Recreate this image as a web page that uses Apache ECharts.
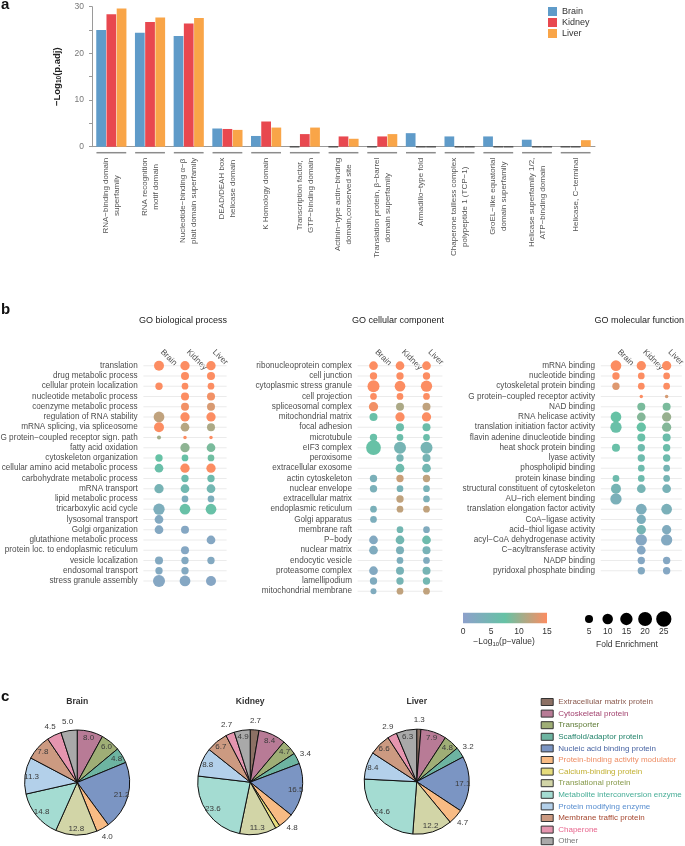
<!DOCTYPE html>
<html><head><meta charset="utf-8">
<script src="https://cdn.jsdelivr.net/npm/echarts@6/dist/echarts.min.js"></script>
<style>html,body{margin:0;padding:0;background:#fff}#c{width:685px;height:846px}</style>
</head><body><div id="c"></div><script>
const FONT = '"Liberation Sans", Arial, Helvetica, sans-serif';

// ---------- Panel a data ----------
const tissues = ['Brain', 'Kidney', 'Liver'];
const tissueColors = ['#5f9bc9', '#e8484f', '#f9a548'];
const domainNames = [
  'RNA\u2212binding domain\nsuperfamily',
  'RNA recognition\nmotif domain',
  'Nucleotide\u2212binding \u03b1\u2212\u03b2\nplait domain superfamily',
  'DEAD/DEAH box\nhelicase domain',
  'K Homology domain',
  'Transcription factor,\nGTP\u2212binding domain',
  'Actinin\u2212type actin\u2212binding\ndomain,conserved site',
  'Translation protein, \u03b2\u2212barrel\ndomain superfamily',
  'Armadillo\u2212type fold',
  'Chaperone tailless complex\npolypeptide 1 (TCP\u22121)',
  'GroEL\u2212like equatorial\ndomain superfamily',
  'Helicase superfamily 1/2,\nATP\u2212binding domain',
  'Helicase, C\u2212terminal'
];
const brainPadj  = [25.0, 24.4, 23.7, 3.9, 2.3, 0, 0, 0, 2.9, 2.2, 2.2, 1.5, 0];
const kidneyPadj = [28.4, 26.7, 26.4, 3.8, 5.4, 2.7, 2.2, 2.2, 0, 0, 0, 0, 0];
const liverPadj  = [29.6, 27.7, 27.6, 3.6, 4.1, 4.1, 1.7, 2.7, 0, 0, 0, 0, 1.4];

// ---------- Panel b data ----------
const bpTerms = ['translation','drug metabolic process','cellular protein localization','nucleotide metabolic process','coenzyme metabolic process','regulation of RNA stability','mRNA splicing, via spliceosome','G protein\u2212coupled receptor sign. path','fatty acid oxidation','cytoskeleton organization','cellular amino acid metabolic process','carbohydrate metabolic process','mRNA transport','lipid metabolic process','tricarboxylic acid cycle','lysosomal transport','Golgi organization','glutathione metabolic process','protein loc. to endoplasmic reticulum','vesicle localization','endosomal transport','stress granule assembly'];
const bpBrainFE  = [8.8,null,4.0,null,null,10.5,8.8,1.16,null,4.0,6.2,null,7.3,null,12.0,6.2,6.2,null,null,5.0,4.0,13.9];
const bpKidneyFE = [7.3,5.0,3.2,5.0,5.0,7.3,6.2,1.03,7.3,3.2,7.3,4.0,6.2,3.2,10.5,null,5.0,null,5.0,4.0,4.0,10.5];
const bpLiverFE  = [7.3,5.0,3.2,5.0,5.0,7.3,5.0,1.03,6.2,3.2,7.3,4.0,6.2,3.2,10.5,null,null,6.2,null,4.0,null,8.8];
const bpBrainP   = [15,null,15,null,null,12,15,10.5,null,7.5,6.8,null,4.3,null,3,2,1.8,null,null,2,2,1.6];
const bpKidneyP  = [15,15,15,15,14.5,15,11.5,15,9.5,7.3,15,6,5.3,3,7.2,null,1.5,null,1.5,2,2,1.6];
const bpLiverP   = [15,15,15,14.5,13.2,15,11,15,8.5,8,15,6,5,3,7.2,null,null,1.5,null,2,null,1.3];

const ccTerms = ['ribonucleoprotein complex','cell junction','cytoplasmic stress granule','cell projection','spliceosomal complex','mitochondrial matrix','focal adhesion','microtubule','eIF3 complex','peroxisome','extracellular exosome','actin cytoskeleton','nuclear envelope','extracellular matrix','endoplasmic reticulum','Golgi apparatus','membrane raft','P\u2212body','nuclear matrix','endocytic vesicle','proteasome complex','lamellipodium','mitochondrial membrane'];
const ccBrainFE  = [6.2,4.0,13.9,3.2,7.3,5.0,null,4.0,22.9,null,null,4.0,4.0,null,3.2,3.2,null,6.2,6.2,null,6.2,4.0,2.4];
const ccKidneyFE = [6.2,4.0,10.5,3.2,5.0,7.3,5.0,3.2,13.9,4.0,6.2,4.0,3.2,4.0,3.2,null,3.2,6.2,5.0,3.2,5.0,4.0,3.2];
const ccLiverFE  = [6.2,4.0,12.0,3.2,5.0,7.3,5.0,3.2,13.9,5.0,6.2,4.0,3.2,3.2,3.2,null,3.2,6.2,5.0,3.2,5.0,4.0,3.2];
const ccBrainP   = [15,15,15,15,14.5,7,null,7,7.3,null,null,3.5,3.5,null,3.5,3,null,2,2.5,null,2,2.5,2.5];
const ccKidneyP  = [15,15,15,15,11,15,6.5,6.5,4.5,4.5,6,12.5,4,12,12,null,5,5,3.5,3,4,4.5,12];
const ccLiverP   = [15,15,15,15,12,15,6.5,6.5,4.5,4.5,5,12,4,3.5,12,null,2.5,6,4,2.5,4.5,5,12];

const mfTerms = ['mRNA binding','nucleotide binding','cytoskeletal protein binding','G protein\u2212coupled receptor activity','NAD binding','RNA helicase activity','translation initiation factor activity','flavin adenine dinucleotide binding','heat shock protein binding','lyase activity','phospholipid binding','protein kinase binding','structural constituent of cytoskeleton','AU\u2212rich element binding','translation elongation factor activity','CoA\u2212ligase activity','acid\u2212thiol ligase activity','acyl\u2212CoA dehydrogenase activity','C\u2212acyltransferase activity','NADP binding','pyridoxal phosphate binding'];
const mfBrainFE  = [10.5,4.0,4.0,null,null,10.5,12.0,null,5.0,null,null,3.2,8.8,12.0,null,null,null,null,null,null,null];
const mfKidneyFE = [7.3,3.2,3.2,1.03,5.0,6.2,7.3,5.0,4.0,4.0,3.2,3.2,6.2,null,10.5,7.3,7.3,12.0,6.2,4.0,4.0];
const mfLiverFE  = [7.3,3.2,3.2,1.03,5.0,7.3,7.3,5.0,4.0,4.0,3.2,3.2,6.2,null,10.5,null,7.3,12.0,null,4.0,4.0];
const mfBrainP   = [15,15,13.5,null,null,7.5,7,null,7,null,null,6,4.5,3.5,null,null,null,null,null,null,null];
const mfKidneyP  = [15,15,15,15,8.5,9,7.5,7,6,6,6,6,4.5,null,3,3,4.5,1.5,1.5,1.5,2];
const mfLiverP   = [15,15,15,13,8.5,10,9,6.5,6.5,6,4.5,4.5,4,null,3.5,null,2.5,2,null,1.5,1.5];

const pLegendTicks = [0, 5, 10, 15];
const feLegendTicks = [5, 10, 15, 20, 25];

// ---------- Panel c data ----------
const pieCats = ['Extracellular matrix protein','Cytoskeletal protein','Transporter','Scaffold/adaptor protein','Nucleic acid binding protein','Protein-binding activity modulator','Calcium-binding protein','Translational protein','Metabolite interconversion enzyme','Protein modifying enzyme','Membrane traffic protein','Chaperone','Other'];
const brainShare  = [0, 8.0, 6.0, 4.8, 21.2, 4.0, 0, 12.8, 14.8, 11.3, 7.8, 4.5, 5.0];
const kidneyShare = [2.7, 8.4, 4.7, 3.4, 16.5, 4.8, 1.4, 11.3, 23.6, 8.8, 6.7, 2.7, 4.9];
const liverShare  = [1.3, 7.9, 4.8, 3.2, 17.1, 4.7, 0, 12.2, 24.6, 8.4, 6.6, 2.9, 6.3];

// ---------- styling config ----------
const pieColors = ['#8c7064','#b87b96','#9fae76','#6db4a1','#7b95c3','#f8bb84','#e6dc7c','#d2d5a7','#a4dcd2','#b3d0ea','#cc9a81','#e595af','#a9a9a9'];
const pieTextColors = ['#8a5a4e','#a3436f','#5e7b35','#24846c','#4a65a3','#ee8d64','#c2b032','#86994a','#47ad96','#5a8fd0','#a5472f','#e7658d','#7a7a7a'];
const pieOutside = [[5, 11, 12], [0, 3, 5, 6, 11], [0, 3, 5, 11]];
const pieLayout = [{c: [77.2, 782.5], title: 'Brain'}, {c: [250.2, 782.2], title: 'Kidney'}, {c: [416.7, 781.7], title: 'Liver'}];
const PIE_R = 52.5;
const dotGradient = ['#8DA0CB', '#66C2A5', '#FC8D62'];

function dotSize(fe) { return 3 + 13 * Math.sqrt(Math.max(0, (fe - 1) / 27)); }

const chart = echarts.init(document.getElementById('c'), null, {renderer: 'canvas'});

const grids = [
  {left: 92, top: 6.7, width: 503, height: 140},
  {left: 146, top: 360.6, width: 78, height: 22 * 10.25},
  {left: 360.25, top: 360.6, width: 79.5, height: 23 * 10.25},
  {left: 603.3, top: 360.6, width: 76, height: 21 * 10.25}
].map(g => Object.assign({outerBoundsMode: 'none', containLabel: false}, g));

const xAxes = [{
  gridIndex: 0, type: 'category', data: domainNames,
  axisLine: {lineStyle: {color: '#9a9a9a', width: 1}}, axisTick: {show: false},
  axisLabel: {interval: 0, rotate: 90, margin: 11, color: '#555',
    formatter: v => v.split('\n').map(l => '{c|' + l + '}').join('\n'),
    rich: {c: {align: 'center', fontSize: 8, lineHeight: 11, color: '#555', fontFamily: FONT}}},
  splitLine: {show: false}
}];
const yAxes = [{
  gridIndex: 0, type: 'value', min: 0, max: 30, interval: 5,
  name: '{a|\u2212Log}{s|10}{a|(p.adj)}', nameLocation: 'middle', nameGap: 29, nameRotate: 90,
  nameTextStyle: {rich: {
    a: {fontSize: 9.5, fontWeight: 'bold', color: '#222', fontFamily: FONT, lineHeight: 12},
    s: {fontSize: 6.5, fontWeight: 'bold', color: '#222', fontFamily: FONT, lineHeight: 6, verticalAlign: 'bottom'}}},
  axisLine: {show: true, lineStyle: {color: '#9a9a9a'}},
  axisTick: {show: true, length: 3, lineStyle: {color: '#9a9a9a'}},
  splitLine: {show: false},
  axisLabel: {margin: 8, fontSize: 8.5, color: '#777', formatter: v => (v % 10 === 0 ? String(v) : '')}
}];

const panels = [
  {terms: bpTerms, fe: [bpBrainFE, bpKidneyFE, bpLiverFE], p: [bpBrainP, bpKidneyP, bpLiverP], title: 'GO biological process'},
  {terms: ccTerms, fe: [ccBrainFE, ccKidneyFE, ccLiverFE], p: [ccBrainP, ccKidneyP, ccLiverP], title: 'GO cellular component'},
  {terms: mfTerms, fe: [mfBrainFE, mfKidneyFE, mfLiverFE], p: [mfBrainP, mfKidneyP, mfLiverP], title: 'GO molecular function'}
];

panels.forEach((pn, k) => {
  const gi = k + 1;
  xAxes.push({gridIndex: gi, type: 'category', position: 'top', data: tissues, boundaryGap: true,
    axisLine: {show: false}, axisTick: {show: false}, splitLine: {show: false},
    axisLabel: {interval: 0, rotate: 45, align: 'left', verticalAlign: 'bottom', margin: 7, color: '#4d4d4d', fontSize: 8.3}});
  yAxes.push({gridIndex: gi, type: 'category', inverse: true, data: pn.terms,
    axisLine: {show: false}, axisTick: {show: false}, splitLine: {show: false},
    axisLabel: {interval: 0, margin: 8.3, color: '#4d4d4d', fontSize: 8.2}});
});

const series = [];
// bars
[brainPadj, kidneyPadj, liverPadj].forEach((arr, i) => {
  series.push({type: 'bar', name: tissues[i], xAxisIndex: 0, yAxisIndex: 0,
    barGap: '5%', barCategoryGap: '22%', itemStyle: {color: tissueColors[i]},
    data: arr.map(v => v === 0 ? {value: 0, itemStyle: {borderColor: '#555', borderWidth: 1.4}} : v)});
});
// category underline marks
series.push({type: 'custom', xAxisIndex: 0, yAxisIndex: 0, silent: true,
  data: domainNames.map((_, i) => [i, 0]), encode: {x: 0, y: 1},
  renderItem: (params, api) => {
    const p = api.coord([api.value(0), 0]);
    const bw = api.size([1, 0])[0];
    return {type: 'line', shape: {x1: p[0] - 0.385 * bw, y1: p[1] + 6, x2: p[0] + 0.385 * bw, y2: p[1] + 6},
      style: {stroke: '#8c8c8c', lineWidth: 1.5}};
  }});

const scatterIdx = [];
panels.forEach((pn, k) => {
  const gi = k + 1;
  series.push({type: 'custom', xAxisIndex: gi, yAxisIndex: gi, silent: true, z: 1,
    data: pn.terms.map((_, i) => [0, i]), encode: {x: 0, y: 1},
    renderItem: (params, api) => {
      const y = api.coord([0, api.value(1)])[1];
      const cs = params.coordSys; const bw = cs.width / 3;
      return {type: 'line', shape: {x1: cs.x - 0.1 * bw, y1: y, x2: cs.x + cs.width + 0.1 * bw, y2: y},
        style: {stroke: '#ebebeb', lineWidth: 1.1}};
    }});
  const pts = [];
  pn.fe.forEach((arr, t) => arr.forEach((fe, i) => { if (fe != null) pts.push([t, i, fe, pn.p[t][i]]); }));
  scatterIdx.push(series.length);
  series.push({type: 'scatter', xAxisIndex: gi, yAxisIndex: gi, z: 3, data: pts,
    symbolSize: v => dotSize(v[2]), itemStyle: {opacity: 1}});
});

// pies
const shares = [brainShare, kidneyShare, liverShare];
shares.forEach((arr, k) => {
  series.push({type: 'pie', name: 'pie' + tissues[k], center: pieLayout[k].c, radius: [0, PIE_R],
    startAngle: 90, clockwise: true, silent: true, label: {show: false}, labelLine: {show: false},
    itemStyle: {borderColor: '#111', borderWidth: 1},
    data: arr.map((v, i) => ({name: pieCats[i], value: v, itemStyle: {color: pieColors[i]}})).filter(d => d.value > 0)});
});
shares.forEach((arr, k) => {
  [[0.64, 1.0, false], [1.0, 1.24, true]].forEach(([r0, r1, outside]) => {
    series.push({type: 'pie', name: 'lab' + k + outside, center: pieLayout[k].c, radius: [r0 * PIE_R, r1 * PIE_R],
      startAngle: 90, clockwise: true, silent: true, labelLine: {show: false},
      itemStyle: {color: 'rgba(0,0,0,0)', borderWidth: 0},
      label: {position: 'inside', fontSize: 8, color: '#3a3a3a', fontFamily: FONT,
        formatter: p => p.value.toFixed(1)},
      data: arr.map((v, i) => ({name: pieCats[i], value: v,
        label: {show: pieOutside[k].includes(i) === outside}})).filter(d => d.value > 0)});
  });
});

// legends / texts as graphic
const graphic = [];
const txt = (x, y, text, extra) => graphic.push({type: 'text', x, y, silent: true,
  style: Object.assign({text, fontFamily: FONT, fontSize: 8.5, fill: '#333', align: 'center', verticalAlign: 'middle'}, extra || {})});
txt(1, 4.7, 'a', {fontSize: 15, fontWeight: 'bold', fill: '#111', align: 'left'});
txt(1, 309.7, 'b', {fontSize: 15, fontWeight: 'bold', fill: '#111', align: 'left'});
txt(1, 696.7, 'c', {fontSize: 15, fontWeight: 'bold', fill: '#111', align: 'left'});
grids.slice(1).forEach((g, k) => txt(g.left + g.width / 2 - 2, 320.7, panels[k].title, {fontSize: 9, fill: '#222'}));
pieLayout.forEach(pl => txt(pl.c[0], 701.7, pl.title, {fontSize: 8.6, fontWeight: 'bold', fill: '#333'}));

// color bar legend
const cb = {x: 463, y: 612.7, w: 84, h: 10.6};
graphic.push({type: 'rect', silent: true, shape: {x: cb.x, y: cb.y, width: cb.w, height: cb.h},
  style: {fill: new echarts.graphic.LinearGradient(0, 0, 1, 0, dotGradient.map((c, i) => ({offset: i / (dotGradient.length - 1), color: c})))}});
pLegendTicks.forEach(v => txt(cb.x + v / 15 * cb.w, 631.2, String(v)));
graphic.push({type: 'text', x: 504, y: 641.5, silent: true, style: {
  text: '{a|\u2212Log}{s|10}{a|(p\u2212value)}', align: 'center', verticalAlign: 'middle',
  rich: {a: {fontSize: 8.5, fill: '#333', fontFamily: FONT, lineHeight: 11},
         s: {fontSize: 6, fill: '#333', fontFamily: FONT, lineHeight: 6, verticalAlign: 'bottom'}}}});
// fold enrichment legend
feLegendTicks.forEach((v, i) => {
  const x = 589 + i * 18.7;
  graphic.push({type: 'circle', silent: true, shape: {cx: x, cy: 619, r: dotSize(v) / 2}, style: {fill: '#000'}});
  txt(x, 631.7, String(v));
});
txt(627, 644.3, 'Fold Enrichment');

const option = {
  animation: false,
  backgroundColor: '#fff',
  textStyle: {fontFamily: FONT},
  grid: grids, xAxis: xAxes, yAxis: yAxes, series,
  visualMap: [{type: 'continuous', show: false, seriesIndex: scatterIdx, dimension: 3, min: 0, max: 15,
    inRange: {color: dotGradient}}],
  legend: [
    {orient: 'vertical', left: 548, top: 7, padding: 0, itemWidth: 9, itemHeight: 9, itemGap: 2, icon: 'rect',
      selectedMode: false, data: tissues, textStyle: {fontSize: 9, color: '#333', fontFamily: FONT}},
    {orient: 'vertical', left: 540.7, top: 698, padding: 0, itemWidth: 12, itemHeight: 7, itemGap: 3.6, icon: 'rect',
      selectedMode: false, itemStyle: {borderColor: '#333', borderWidth: 1},
      textStyle: {fontSize: 8, fontFamily: FONT},
      data: pieCats.map((n, i) => ({name: n, textStyle: {color: pieTextColors[i]}}))}
  ],
  graphic
};
chart.setOption(option);
</script></body></html>
